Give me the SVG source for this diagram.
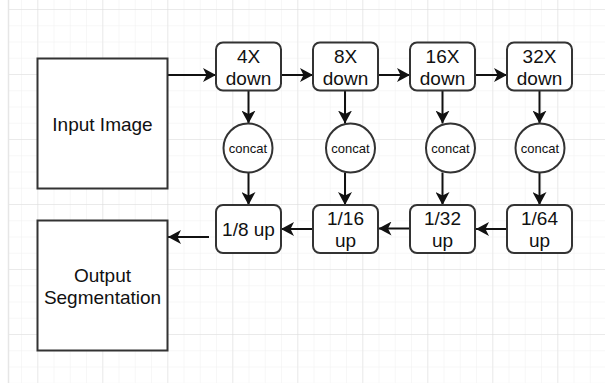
<svg xmlns="http://www.w3.org/2000/svg" width="605" height="383" viewBox="0 0 605 383">
<defs>
<pattern id="minor" x="5.75" y="10" width="16.25" height="16.25" patternUnits="userSpaceOnUse">
<path d="M16.25 0V16.25M0 16.25H16.25" fill="none" stroke="#f0f0f0" stroke-width="1"/>
</pattern>
<pattern id="major" x="-26.7" y="10" width="65" height="65" patternUnits="userSpaceOnUse">
<path d="M65 0V65M0 65H65" fill="none" stroke="#dcdcdc" stroke-width="1"/>
</pattern>
<marker id="ah" viewBox="0 0 14 14" refX="13" refY="7" markerWidth="14" markerHeight="14" markerUnits="userSpaceOnUse" orient="auto">
<path d="M0 0L13 7L0 14L3.5 7Z" fill="#111"/>
</marker>
<style>
.box{fill:#fff;stroke:#333;stroke-width:2}
.sq{fill:#fff;stroke:#333;stroke-width:2}
.t{font-family:"Liberation Sans",Arial,sans-serif;font-size:19px;fill:#111;text-anchor:middle}
.c{font-family:"Liberation Sans",Arial,sans-serif;font-size:13px;fill:#111;text-anchor:middle}
.e{fill:none;stroke:#111;stroke-width:2;marker-end:url(#ah)}
</style>
</defs>
<rect width="605" height="383" fill="#fff"/>
<rect x="9" y="0" width="596" height="383" fill="url(#minor)"/>
<rect x="9" y="0" width="596" height="383" fill="url(#major)"/>
<line x1="8.5" y1="0" x2="8.5" y2="383" stroke="#e6e6e6" stroke-width="1.5"/>

<g id="connectors">
<path class="e" d="M167.5 75H216"/>
<path class="e" d="M281 75H313"/>
<path class="e" d="M378 75H410"/>
<path class="e" d="M475 75H507"/>
<path class="e" d="M248.5 90.5V123.5"/>
<path class="e" d="M345 90.5V123.5"/>
<path class="e" d="M442.5 90.5V123.5"/>
<path class="e" d="M539.5 90.5V123.5"/>
<path class="e" d="M248.5 172.5V205"/>
<path class="e" d="M345 172.5V205"/>
<path class="e" d="M442.5 172.5V205"/>
<path class="e" d="M539.5 172.5V205"/>
<path class="e" d="M507 229H476"/>
<path class="e" d="M410 228.5H378.5"/>
<path class="e" d="M313 229H281"/>
<path class="e" d="M209 237H168"/>
</g>

<g id="input"><rect class="sq" x="37.5" y="58.5" width="130" height="130"/><text class="t" x="102.5" y="130.5">Input Image</text></g>
<g id="output"><rect class="sq" x="37.5" y="220.5" width="130" height="130"/><text class="t" x="102.5" y="281.5">Output</text><text class="t" x="102.5" y="303.5">Segmentation</text></g>

<g id="down4"><rect class="box" x="216" y="42.5" width="65" height="48" rx="7"/><text class="t" x="248.5" y="62.5">4X</text><text class="t" x="248.5" y="84.5">down</text></g>
<g id="down8"><rect class="box" x="313" y="42.5" width="65" height="48" rx="7"/><text class="t" x="345.5" y="62.5">8X</text><text class="t" x="345.5" y="84.5">down</text></g>
<g id="down16"><rect class="box" x="410" y="42.5" width="65" height="48" rx="7"/><text class="t" x="442.5" y="62.5">16X</text><text class="t" x="442.5" y="84.5">down</text></g>
<g id="down32"><rect class="box" x="507" y="42.5" width="65" height="48" rx="7"/><text class="t" x="539.5" y="62.5">32X</text><text class="t" x="539.5" y="84.5">down</text></g>

<g id="concat1"><circle class="box" cx="248" cy="148" r="24.5"/><text class="c" x="248" y="152.5">concat</text></g>
<g id="concat2"><circle class="box" cx="350.5" cy="148" r="24.5"/><text class="c" x="350.5" y="152.5">concat</text></g>
<g id="concat3"><circle class="box" cx="450.5" cy="148" r="24.5"/><text class="c" x="450.5" y="152.5">concat</text></g>
<g id="concat4"><circle class="box" cx="540" cy="148" r="24.5"/><text class="c" x="540" y="152.5">concat</text></g>

<g id="up8"><rect class="box" x="216" y="205" width="65" height="48" rx="7"/><text class="t" x="248.5" y="235.5">1/8 up</text></g>
<g id="up16"><rect class="box" x="313" y="205" width="65" height="48" rx="7"/><text class="t" x="345.5" y="225">1/16</text><text class="t" x="345.5" y="247">up</text></g>
<g id="up32"><rect class="box" x="410" y="205" width="65" height="48" rx="7"/><text class="t" x="442.5" y="225">1/32</text><text class="t" x="442.5" y="247">up</text></g>
<g id="up64"><rect class="box" x="507" y="205" width="65" height="48" rx="7"/><text class="t" x="539.5" y="225">1/64</text><text class="t" x="539.5" y="247">up</text></g>
</svg>
